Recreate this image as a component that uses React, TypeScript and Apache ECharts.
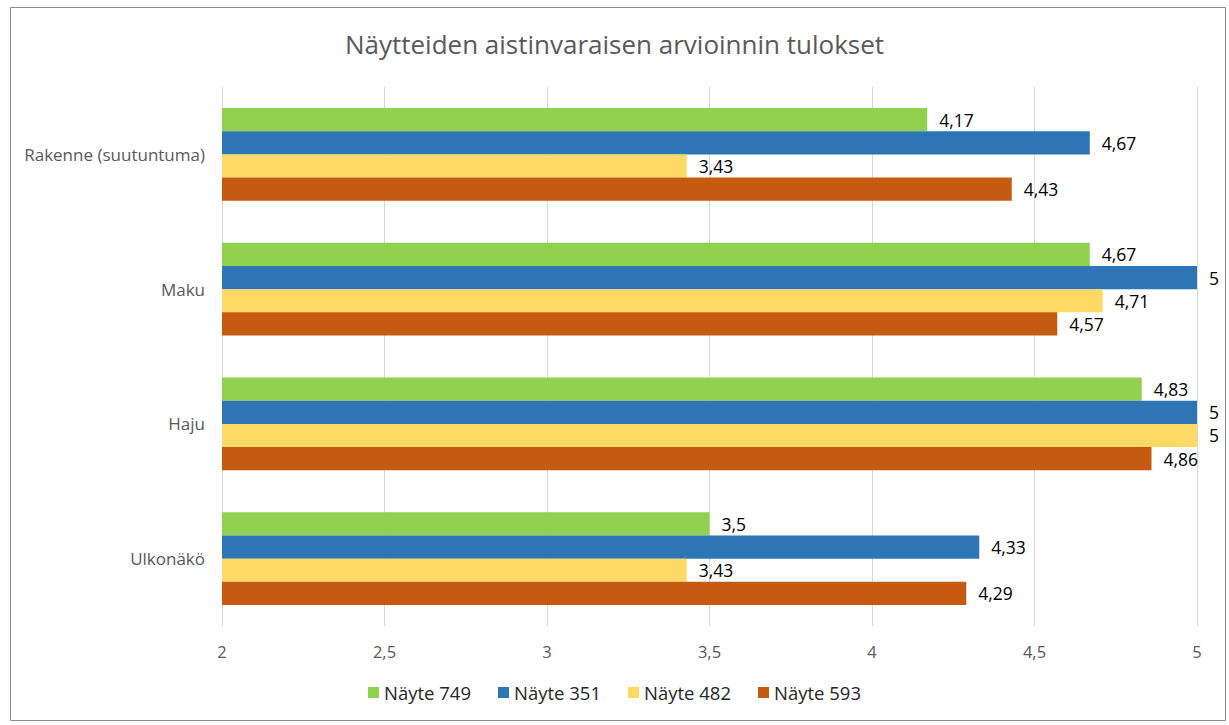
import React, { useEffect, useRef } from "react";
import * as echarts from "echarts";

const categories = ["Ulkonäkö", "Haju", "Maku", "Rakenne (suutuntuma)"];
const seriesNames = ["Näyte 749", "Näyte 351", "Näyte 482", "Näyte 593"];
const values749 = [3.5, 4.83, 4.67, 4.17];
const values351 = [4.33, 5, 5, 4.67];
const values482 = [3.43, 5, 4.71, 3.43];
const values593 = [4.29, 4.86, 4.57, 4.43];
const xTicks = [2, 2.5, 3, 3.5, 4, 4.5, 5];
const colors = ["#92d050", "#2e75b6", "#ffd966", "#c55a11"];

const FONT = "Open Sans";

export default function App() {
  const ref = useRef<HTMLDivElement>(null);
  useEffect(() => {
    if (!ref.current) return;
    const chart = echarts.init(ref.current, null, { renderer: "svg" });
    const allValues = [values749, values351, values482, values593];
    const fmt = (v: number) => String(v).replace(".", ",");
    const series = seriesNames.map((name, i) => ({
      name,
      type: "bar" as const,
      data: allValues[i],
      itemStyle: { color: colors[i] },
      barGap: "0%",
      barCategoryGap: "31%",
      label: {
        show: true,
        position: "right" as const,
        distance: 12,
        color: "#000000",
        fontSize: 17.5,
        fontFamily: FONT,
        formatter: (p: any) => fmt(p.value),
      },
    }));
    chart.setOption({
      animation: false,
      backgroundColor: "#ffffff",
      textStyle: { fontFamily: FONT },
      title: {
        text: "Näytteiden aistinvaraisen arvioinnin tulokset",
        left: "center",
        top: 26,
        textStyle: { color: "#595959", fontSize: 26, fontWeight: "normal", fontFamily: FONT },
      },
      graphic: [
        {
          type: "rect",
          shape: { x: 10.5, y: 7.5, width: 1215, height: 713 },
          style: { fill: "none", stroke: "#8c8c8c", lineWidth: 1 },
          silent: true,
        },
      ],
      legend: {
        data: seriesNames,
        bottom: 18,
        left: "center",
        icon: "rect",
        itemWidth: 11,
        itemHeight: 11,
        itemGap: 27,
        textStyle: { color: "#262626", fontSize: 18.5, fontFamily: FONT },
      },
      grid: { left: 222, right: 32, top: 87, bottom: 99, containLabel: false },
      xAxis: {
        type: "value",
        min: 2,
        max: 5,
        interval: 0.5,
        axisLine: { show: false },
        axisTick: { show: false },
        splitLine: { show: true, lineStyle: { color: "#d9d9d9", width: 1 } },
        axisLabel: {
          color: "#595959",
          fontSize: 16.5,
          margin: 17,
          fontFamily: FONT,
          formatter: (v: number) => (xTicks.includes(v) ? fmt(v) : ""),
        },
      },
      yAxis: {
        type: "category",
        data: categories,
        axisLine: { show: true, lineStyle: { color: "#d9d9d9", width: 1 } },
        axisTick: { show: false },
        axisLabel: { color: "#595959", fontSize: 17, margin: 17, fontFamily: FONT },
      },
      series,
    });
    return () => chart.dispose();
  }, []);
  return (
    <div
      ref={ref}
      style={{ position: "absolute", left: 0, top: 0, width: 1229, height: 725 }}
    />
  );
}
